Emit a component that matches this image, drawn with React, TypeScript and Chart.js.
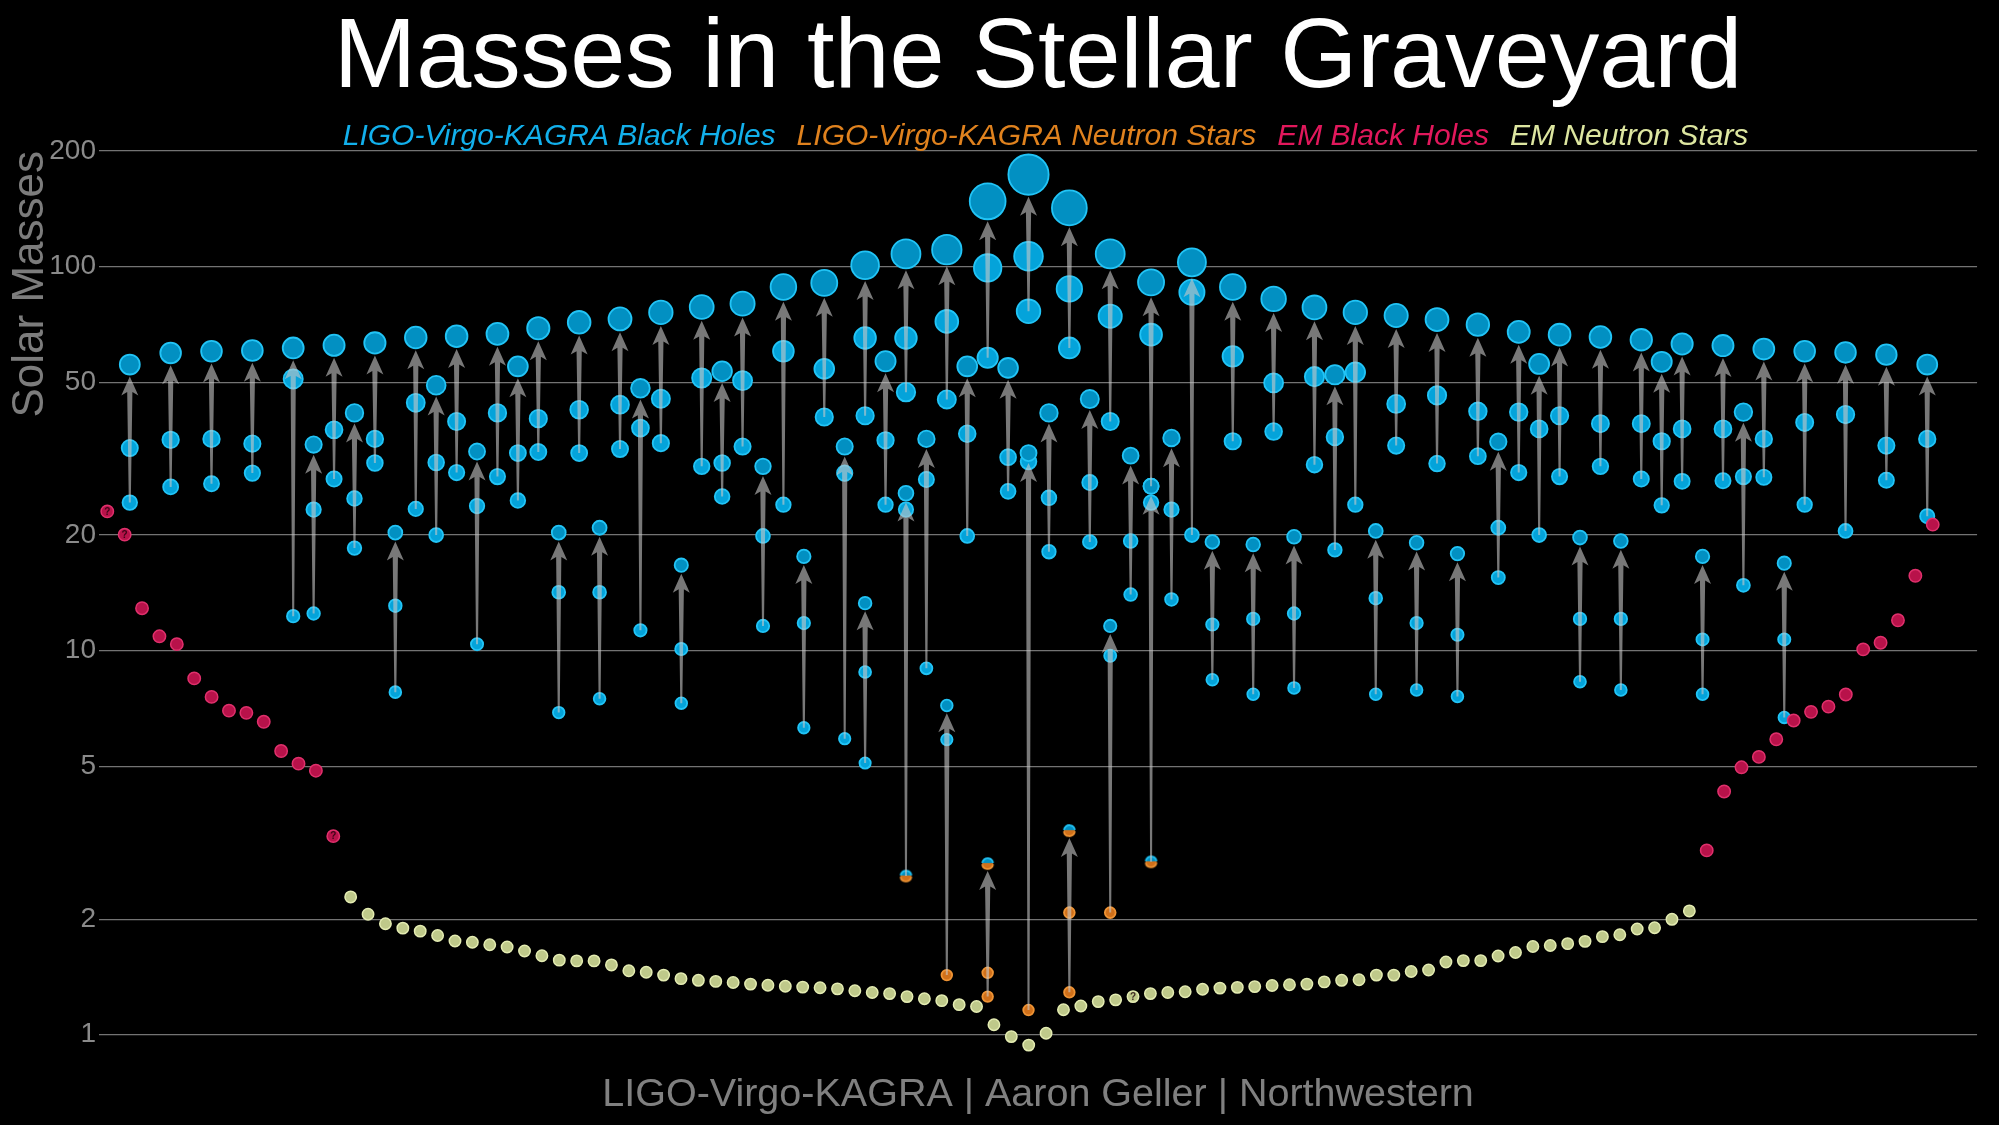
import React, { useEffect, useRef } from "react";
import { Chart, registerables } from "chart.js";

Chart.register(...registerables);

// ---------------- text ----------------
const TITLE = "Masses in the Stellar Graveyard";
const CREDIT = "LIGO-Virgo-KAGRA | Aaron Geller | Northwestern";
const Y_TITLE = "Solar Masses";
const LEGEND_LABELS = [
  "LIGO-Virgo-KAGRA Black Holes",
  "LIGO-Virgo-KAGRA Neutron Stars",
  "EM Black Holes",
  "EM Neutron Stars",
];
const Y_TICKS = [1, 2, 5, 10, 20, 50, 100, 200];

// ---------------- gravitational-wave mergers ----------------
// column slot of each event, remnant mass, heavier component, lighter component
const eventSlot = [
  0, 2, 4, 6, 8, 9, 10, 11, 12, 13, 14, 15, 16, 17, 18, 19, 20, 21, 22, 23, 24, 25, 26, 27, 28, 29, 30,
  31, 32, 33, 34, 35, 36, 36, 37, 38, 38, 39, 40, 40, 41, 42, 42, 43, 44, 44, 45, 46, 46, 47, 48, 48,
  49, 50, 50, 51, 52, 53, 54, 55, 56, 57, 58, 59, 60, 61, 62, 63, 64, 65, 66, 67, 68, 69, 70, 71, 72,
  73, 74, 75, 76, 77, 78, 79, 80, 81, 82, 84, 86, 88,
];
const eventRemnant = [
  55.6, 59.6, 60.2, 60.5, 61.4, 34.4, 62.4, 41.6, 63.3, 20.3, 65.4, 49.1, 65.9, 33.0, 66.8, 55.0, 69.1,
  20.3, 71.6, 20.9, 73.1, 48.2, 76.0, 16.7, 78.5, 53.4, 80.1, 30.2, 88.5, 17.6, 90.7, 34.0, 100.8, 13.3,
  56.7, 107.9, 25.7, 35.6, 110.7, 7.2, 55.0, 147.9, 2.79, 54.5, 173.6, 32.7, 41.6, 142.2, 3.4, 45.2,
  107.9, 11.6, 32.2, 91.0, 26.8, 35.8, 102.6, 19.2, 88.5, 18.9, 82.4, 19.8, 78.3, 52.3, 76.0, 20.5, 74.6,
  19.1, 72.8, 17.9, 70.6, 35.0, 67.6, 55.8, 66.5, 19.7, 65.6, 19.3, 64.5, 56.5, 62.9, 17.6, 62.3, 41.8,
  61.0, 16.9, 60.2, 59.8, 59.0, 55.6,
];
const eventMass1 = [
  33.7, 35.4, 35.6, 34.6, 51.0, 23.3, 37.6, 24.9, 35.6, 13.1, 44.2, 30.9, 39.5, 23.8, 41.6, 32.7, 40.2,
  14.2, 42.4, 14.2, 43.7, 38.0, 45.3, 10.1, 51.3, 30.8, 50.5, 19.9, 60.2, 11.8, 54.2, 29.0, 65.2, 8.8,
  35.3, 65.2, 23.3, 27.9, 72.0, 5.87, 36.7, 99.2, 1.45, 31.9, 106.4, 31.1, 25.0, 87.5, 2.08, 27.4, 74.3,
  9.7, 19.3, 66.5, 24.3, 23.3, 85.8, 11.7, 58.4, 12.1, 49.8, 12.5, 51.7, 36.0, 53.1, 13.7, 43.9, 11.8,
  46.2, 11.0, 42.0, 20.9, 41.8, 37.8, 40.9, 12.1, 39.0, 12.1, 39.0, 35.1, 37.8, 10.7, 37.8, 28.4, 35.6,
  10.7, 39.3, 41.2, 34.2, 35.6,
];
const eventMass2 = [
  24.3, 26.7, 27.2, 29.0, 12.3, 12.5, 28.0, 18.5, 30.8, 7.8, 23.4, 20.0, 29.1, 10.4, 28.4, 24.6, 32.9,
  6.9, 32.7, 7.5, 33.5, 11.3, 34.7, 7.3, 30.2, 25.2, 34.0, 11.6, 24.0, 6.3, 40.6, 5.9, 40.9, 5.1, 24.0,
  47.1, 2.59, 9.0, 45.1, 1.43, 19.9, 57.9, 1.257, 26.0, 76.5, 1.16, 18.1, 61.4, 1.29, 19.2, 39.5, 2.08,
  14.0, 26.8, 2.82, 13.6, 20.0, 8.4, 35.1, 7.7, 37.2, 8.0, 30.5, 18.3, 24.0, 7.7, 34.2, 7.9, 30.7, 7.6,
  32.1, 15.5, 29.1, 20.0, 28.4, 8.3, 30.2, 7.9, 28.0, 23.9, 27.6, 7.7, 27.7, 14.8, 28.3, 6.7, 24.0,
  20.5, 27.8, 22.4,
];

// ---------------- electromagnetic observations ----------------
const emBlackHolesLeft = [23.05, 20.05, 12.9, 10.9, 10.4, 8.47, 7.58, 6.98, 6.89, 6.53, 5.48, 5.08, 4.87, 3.29];
const emNeutronStars = [
  2.285, 2.06, 1.945, 1.895, 1.861, 1.813, 1.754, 1.742, 1.716, 1.693, 1.653, 1.606, 1.564, 1.557, 1.557,
  1.52, 1.468, 1.455, 1.43, 1.4, 1.386, 1.377, 1.368, 1.355, 1.346, 1.338, 1.331, 1.326, 1.317, 1.302,
  1.288, 1.28, 1.257, 1.241, 1.227, 1.198, 1.185, 1.062, 0.989, 0.94, 1.009, 1.162, 1.188, 1.22, 1.233,
  1.257, 1.28, 1.288, 1.294, 1.314, 1.323, 1.329, 1.335, 1.344, 1.35, 1.355, 1.373, 1.386, 1.391, 1.43,
  1.43, 1.461, 1.474, 1.547, 1.56, 1.56, 1.603, 1.638, 1.697, 1.708, 1.727, 1.751, 1.801, 1.822, 1.886,
  1.9, 1.998, 2.101,
];
const emBlackHolesRight = [3.02, 4.3, 4.97, 5.29, 5.88, 6.58, 6.93, 7.15, 7.69, 10.08, 10.49, 12.0, 15.67, 21.3];
// positions (in the EM sequence) of uncertain objects, marked "?"
const emUncertain = [0, 1, 13, 59];

// ---------------- styling ----------------
const FONT = "'Liberation Sans', Arial, Helvetica, sans-serif";
const LEGEND_COLORS = ["#12B0EC", "#E0821E", "#E2185C", "#DDE6A0"];
const BH_FILL = "#0290C2";
const BH_FILL_LIGHT = "#04A3DA";
const BH_EDGE = "#22C4F6";
const NS_FILL = "#D0701A";
const NS_EDGE = "#EE9334";
const EMBH_FILL = "#B8124A";
const EMBH_EDGE = "#E0306C";
const EMNS_FILL = "#BFC98A";
const EMNS_EDGE = "#E4ECB2";
const ARROW = "rgba(200,200,200,0.6)";
const DOT_EDGE_W = 1.8;

const dotRadius = (m: number) => 5.2 + 0.086 * m;
const massKind = (m: number) => (m < 2.4 ? "ns" : m < 3.6 ? "gap" : "bh");

const splitCache = new Map<number, HTMLCanvasElement>();
function splitDot(r: number): HTMLCanvasElement {
  const key = Math.round(r * 10);
  const hit = splitCache.get(key);
  if (hit) return hit;
  const size = Math.ceil(2 * (r + DOT_EDGE_W)) + 2;
  const c = document.createElement("canvas");
  c.width = size;
  c.height = size;
  const g = c.getContext("2d")!;
  const cx = size / 2;
  g.save();
  g.beginPath();
  g.arc(cx, cx, r, 0, Math.PI * 2);
  g.clip();
  g.fillStyle = NS_FILL;
  g.fillRect(0, 0, size, size);
  g.fillStyle = BH_FILL;
  g.fillRect(0, 0, size, cx - r * 0.1);
  g.restore();
  g.lineWidth = DOT_EDGE_W;
  g.strokeStyle = NS_EDGE;
  g.beginPath();
  g.arc(cx, cx, r, 0.1, Math.PI - 0.1);
  g.stroke();
  g.strokeStyle = BH_EDGE;
  g.beginPath();
  g.arc(cx, cx, r, Math.PI + 0.1, Math.PI * 2 - 0.1);
  g.stroke();
  splitCache.set(key, c);
  return c;
}

const styleFor = (fill: string) => ({
  pointRadius: (c: any) => dotRadius(c.raw.y),
  pointBackgroundColor: (c: any) => (massKind(c.raw.y) === "ns" ? NS_FILL : fill),
  pointBorderColor: (c: any) => (massKind(c.raw.y) === "ns" ? NS_EDGE : BH_EDGE),
  pointStyle: (c: any) => (massKind(c.raw.y) === "gap" ? splitDot(dotRadius(c.raw.y)) : "circle"),
  pointBorderWidth: DOT_EDGE_W,
});

const emAll = [...emBlackHolesLeft, ...emNeutronStars, ...emBlackHolesRight];

// arrows from the lighter component, through the heavier one, up to the remnant
const arrowPlugin = {
  id: "mergerArrows",
  afterDatasetsDraw(chart: any) {
    const { ctx } = chart;
    const xs = chart.scales.x;
    const ys = chart.scales.y;
    ctx.save();
    ctx.fillStyle = ARROW;
    eventSlot.forEach((slot, i) => {
      const x = xs.getPixelForValue(slot);
      const yTail = ys.getPixelForValue(eventMass2[i]);
      const mf = eventRemnant[i];
      const tip = ys.getPixelForValue(mf) + dotRadius(mf) + DOT_EDGE_W / 2 + 1;
      const headLen = 19;
      const headHalf = 8.5;
      const notch = 5;
      const base = tip + headLen;
      const tailHalf = 1;
      const topHalf = 2.6;
      const joinY = base - notch + notch * (topHalf / headHalf);
      ctx.beginPath();
      if (yTail > joinY + 2) {
        ctx.moveTo(x - tailHalf, yTail);
        ctx.lineTo(x - topHalf, joinY);
        ctx.lineTo(x - headHalf, base);
        ctx.lineTo(x, tip);
        ctx.lineTo(x + headHalf, base);
        ctx.lineTo(x + topHalf, joinY);
        ctx.lineTo(x + tailHalf, yTail);
      } else {
        ctx.moveTo(x, tip);
        ctx.lineTo(x + headHalf, base);
        ctx.lineTo(x, base - notch);
        ctx.lineTo(x - headHalf, base);
      }
      ctx.closePath();
      ctx.fill();
    });
    // question marks on uncertain EM objects
    const xe = chart.scales.xem;
    ctx.font = `bold 10px ${FONT}`;
    ctx.textAlign = "center";
    ctx.textBaseline = "middle";
    ctx.fillStyle = "rgba(30,0,10,0.8)";
    emUncertain.forEach((k) => {
      ctx.fillText("?", xe.getPixelForValue(k), ys.getPixelForValue(emAll[k]) + 0.5);
    });
    ctx.restore();
  },
};

const legendShift = {
  id: "legendShift",
  afterLayout(chart: any) {
    const l = chart.legend;
    if (l) {
      l.top += 11;
      l.bottom += 11;
    }
  },
};

export default function App() {
  const ref = useRef<HTMLCanvasElement>(null);

  useEffect(() => {
    document.body.style.margin = "0";
    document.body.style.background = "#000";

    const emBHData = [
      ...emBlackHolesLeft.map((m, i) => ({ x: i, y: m })),
      ...emBlackHolesRight.map((m, i) => ({
        x: emBlackHolesLeft.length + emNeutronStars.length + i,
        y: m,
      })),
    ];
    const emNSData = emNeutronStars.map((m, i) => ({ x: emBlackHolesLeft.length + i, y: m }));
    const remnantData = eventSlot.map((s, i) => ({ x: s, y: eventRemnant[i] }));
    const componentData = [
      ...eventSlot.map((s, i) => ({ x: s, y: eventMass2[i] })),
      ...eventSlot.map((s, i) => ({ x: s, y: eventMass1[i] })),
    ];

    const chart = new Chart(ref.current!, {
      type: "scatter",
      data: {
        datasets: [
          {
            label: "EM Black Holes",
            xAxisID: "xem",
            data: emBHData,
            pointRadius: 6.2,
            pointBorderWidth: 1.5,
            pointBackgroundColor: EMBH_FILL,
            pointBorderColor: EMBH_EDGE,
            clip: false,
          } as any,
          {
            label: "EM Neutron Stars",
            xAxisID: "xem",
            data: emNSData,
            pointRadius: 5.7,
            pointBorderWidth: 1.5,
            pointBackgroundColor: EMNS_FILL,
            pointBorderColor: EMNS_EDGE,
            clip: false,
          } as any,
          {
            label: "Remnants",
            xAxisID: "x",
            data: remnantData,
            ...styleFor(BH_FILL),
            clip: false,
          } as any,
          {
            label: "Components",
            xAxisID: "x",
            data: componentData,
            ...styleFor(BH_FILL_LIGHT),
            clip: false,
          } as any,
        ],
      },
      options: {
        responsive: false,
        animation: false,
        devicePixelRatio: 1,
        events: [],
        layout: { padding: { left: 0, right: 16, top: 0, bottom: 0 } },
        scales: {
          x: { type: "linear", min: -1.508, max: 90.44, display: false },
          xem: { type: "linear", min: -0.476, max: 107.55, display: false },
          y: {
            type: "logarithmic",
            min: 0.87,
            max: 200,
            afterBuildTicks: (s: any) => {
              s.ticks = Y_TICKS.map((v) => ({ value: v }));
            },
            afterFit: (s: any) => {
              s.width = 99;
            },
            grid: { color: "rgba(135,135,135,0.85)", lineWidth: 1.3, drawTicks: false },
            border: { display: false },
            ticks: {
              color: "#8a8a8a",
              padding: 3,
              font: { family: FONT, size: 28 },
              callback: (v: any) => String(v),
            },
            title: {
              display: true,
              text: Y_TITLE,
              align: "end",
              color: "#7c7c7c",
              font: { family: FONT, size: 44 },
              padding: { top: 4, bottom: 0 },
            },
          } as any,
        },
        plugins: {
          tooltip: { enabled: false },
          title: {
            display: true,
            text: TITLE,
            color: "#ffffff",
            fullSize: false,
            font: { family: FONT, size: 99, weight: "normal", lineHeight: 1 },
            padding: { top: 10, bottom: -4 },
          },
          subtitle: {
            display: true,
            position: "bottom",
            text: CREDIT,
            color: "#808080",
            fullSize: false,
            font: { family: FONT, size: 39.5, weight: "normal", lineHeight: 1 },
            padding: { top: 17, bottom: 10.5 },
          },
          legend: {
            display: true,
            position: "top",
            fullSize: false,
            onClick: () => {},
            labels: {
              boxWidth: 0,
              boxHeight: 0,
              padding: 6,
              font: { family: FONT, size: 30, style: "italic" },
              generateLabels: () =>
                LEGEND_LABELS.map((text, i) => ({
                  text,
                  fontColor: LEGEND_COLORS[i],
                  fillStyle: "rgba(0,0,0,0)",
                  strokeStyle: "rgba(0,0,0,0)",
                  lineWidth: 0,
                  hidden: false,
                  datasetIndex: i,
                })),
            },
          } as any,
        },
      } as any,
      plugins: [arrowPlugin, legendShift],
    });

    return () => chart.destroy();
  }, []);

  return (
    <div style={{ width: 1999, height: 1125, background: "#000" }}>
      <canvas ref={ref} width={1999} height={1125} style={{ display: "block", background: "#000" }} />
    </div>
  );
}
